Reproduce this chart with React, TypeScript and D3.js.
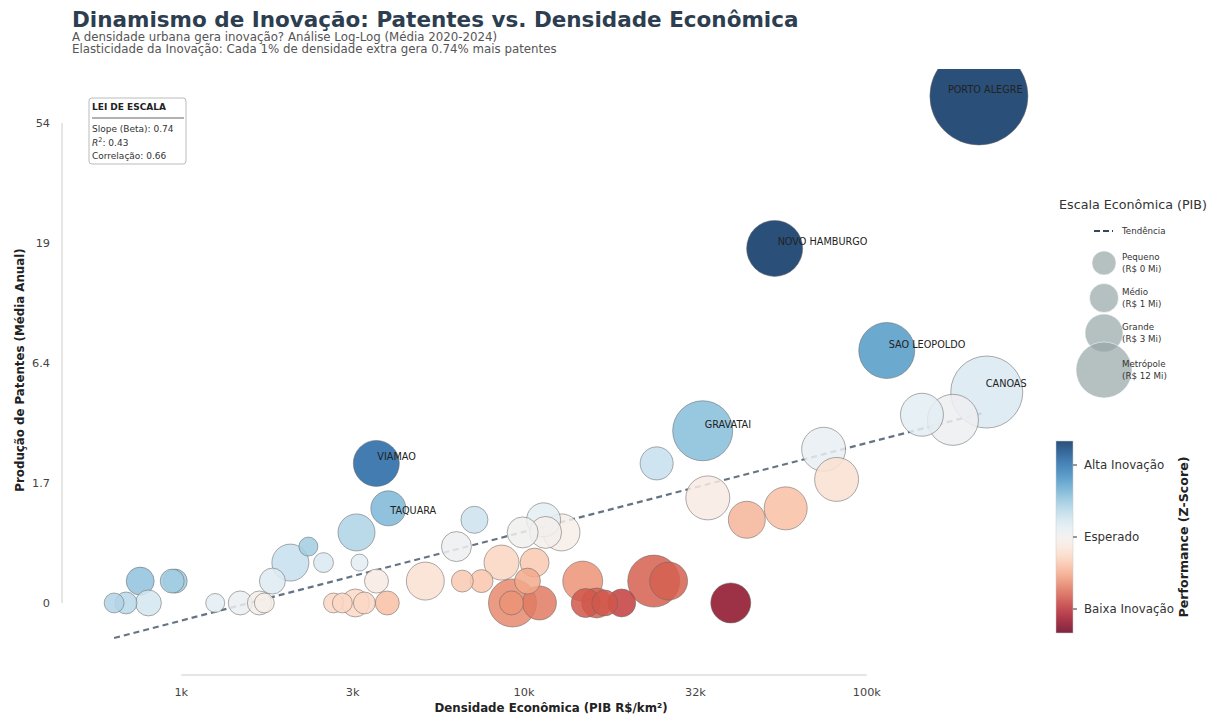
import React from "react";
import * as d3 from "d3";

// ---------- DATA ----------
const labels: string[] = [
  "", "", "", "", "", "", "", "", "", "",
  "", "", "", "", "", "", "", "", "", "",
  "", "", "VIAMAO", "TAQUARA", "", "", "", "", "", "",
  "", "", "", "", "", "", "", "", "", "",
  "", "", "", "", "", "", "", "GRAVATAI", "", "",
  "", "", "NOVO HAMBURGO", "", "", "SAO LEOPOLDO", "", "", "CANOAS", "PORTO ALEGRE",
];
// Economic density (PIB R$/km²)
const density: number[] = [
  637, 690, 802, 759, 960, 941, 1256, 1486, 1690, 1747,
  1844, 2081, 2349, 2600, 3245, 3311, 3711, 2780, 2951, 3221,
  3421, 3990, 3707, 4018, 5152, 6350, 7166, 6607, 7516, 8596,
  10735, 9906, 11400, 12860, 11560, 10233, 9253, 9190, 11090, 14830,
  15130, 16290, 17190, 19270, 23890, 26410, 24370, 33200, 34360, 40090,
  44660, 57980, 53830, 74800, 81620, 114300, 144800, 178300, 223800, 212300,
];
// Patents (annual average 2020-2024)
const patents: number[] = [
  0, 0, 0, 0.2, 0.2, 0.2, 0, 0, 0, 0,
  0.2, 0.4, 0.6, 0.4, 0.8, 0.4, 0.2, 0, 0, 0,
  0, 0, 2.2, 1.2, 0.2, 0.6, 1.0, 0.2, 0.2, 0.4,
  0.4, 0.8, 1.0, 0.8, 0.8, 0.2, 0, 0, 0, 0.2,
  0, 0, 0, 0, 0.2, 0.2, 2.2, 3.2, 1.4, 0,
  1.0, 1.2, 18.2, 2.6, 1.8, 7.2, 3.8, 3.6, 4.8, 67.4,
];
// Performance z-score (residual)
const zscore: number[] = [
  0.6, 0.55, 0.35, 0.8, 0.72, 0.7, 0.2, 0.12, -0.08, -0.1,
  0.25, 0.45, 0.7, 0.28, 0.62, 0.2, -0.15, -0.4, -0.4, -0.38,
  -0.4, -0.6, 1.6, 0.9, -0.3, 0.08, 0.4, -0.52, -0.55, -0.42,
  -0.52, 0.03, 0.2, -0.1, -0.05, -0.76, -0.95, -0.9, -1.05, -0.9,
  -1.25, -1.2, -1.25, -1.4, -1.2, -1.2, 0.45, 0.85, -0.15, -1.8,
  -0.68, -0.6, 2.5, 0.15, -0.3, 1.15, 0.2, 0.08, 0.28, 3.0,
];
// Economic scale (PIB, R$ Mi)
const pib: number[] = [
  3.3, 4.0, 5.6, 6.5, 4.8, 4.8, 3.0, 4.8, 4.8, 3.3,
  5.6, 11.4, 3.0, 3.3, 11.4, 2.4, 4.8, 3.3, 3.3, 6.5,
  4.0, 4.8, 17.6, 10.2, 12.0, 7.5, 6.1, 4.0, 4.4, 10.2,
  7.0, 8.0, 9.6, 11.4, 8.5, 5.6, 19.2, 4.8, 9.6, 13.3,
  7.0, 7.5, 5.6, 6.5, 22.5, 12.0, 9.1, 30.0, 16.1, 13.3,
  11.4, 15.4, 26.1, 16.1, 16.1, 26.1, 15.4, 21.7, 43.2, 80.0,
];

const xTicks: number[] = [1000, 3162, 10000, 31623, 100000];
const xTickLabels: string[] = ["1k", "3k", "10k", "32k", "100k"];
const yTicks: number[] = [0, 1.718, 6.389, 19.09, 53.6];
const yTickLabels: string[] = ["0", "1.7", "6.4", "19", "54"];

const trendSlope = 0.74;
const trendIntercept = -2.367; // ln(1+p) = slope*log10(d) + intercept
const trendRange: number[] = [637, 221000];

const stats: string[] = ["Slope (Beta): 0.74", "0.43", "Correlação: 0.66"];

const sizeLegendLabels: string[][] = [
  ["Pequeno", "(R$ 0 Mi)"],
  ["Médio", "(R$ 1 Mi)"],
  ["Grande", "(R$ 3 Mi)"],
  ["Metrópole", "(R$ 12 Mi)"],
];
const sizeLegendRadii: number[] = [12, 14.5, 19, 28];

const cbTicks: number[] = [1.5, 0, -1.5];
const cbTickLabels: string[] = ["Alta Inovação", "Esperado", "Baixa Inovação"];

// ---------- LAYOUT ----------
const W = 1216, H = 715;
const plot = { left: 72, top: 69, right: 1040, bottom: 665 };
const FONT = "DejaVu Sans, Verdana, sans-serif";

const labelNudge: Record<string, [number, number]> = {
  "PORTO ALEGRE": [-31, -6],
  "NOVO HAMBURGO": [3, -7],
  "SAO LEOPOLDO": [2, -6],
  CANOAS: [-1, -8],
  GRAVATAI: [2, -6],
  VIAMAO: [1, -7],
  TAQUARA: [2, 2],
};

export default function App() {
  const x = d3.scaleLog().domain([480, 320000]).range([plot.left, plot.right]);
  const yl = d3.scaleLinear().domain([-0.517, 4.45]).range([plot.bottom, plot.top]);
  const y = (p: number) => yl(Math.log1p(p));
  const r = d3.scaleSqrt().domain([0, 80]).range([0, 49]);
  const color = d3.scaleSequential(d3.interpolateRdBu).domain([-2, 2]).clamp(true);

  const pts = density.map((d, i) => ({
    d, p: patents[i], z: zscore[i], s: pib[i], label: labels[i],
  }));
  const order = pts.slice().sort((a, b) => b.s - a.s);

  const trendLine = d3.line<number>()
    .x((d) => x(d))
    .y((d) => yl(trendSlope * Math.log10(d) + trendIntercept));

  const cb = { x: 1056, y: 441, w: 17, h: 192 };
  const cbScale = d3.scaleLinear().domain([-2, 2]).range([cb.y + cb.h, cb.y]);
  const gradStops = d3.range(0, 1.0001, 0.05);

  return (
    <svg width={W} height={H} style={{ position: "absolute", left: 0, top: 0, background: "#fff" }}
      fontFamily={FONT}>
      <defs>
        <clipPath id="plotclip">
          <rect x={plot.left} y={plot.top} width={plot.right - plot.left} height={plot.bottom - plot.top} />
        </clipPath>
        <linearGradient id="cbgrad" x1="0" y1="1" x2="0" y2="0">
          {gradStops.map((t) => (
            <stop key={t} offset={`${t * 100}%`} stopColor={d3.interpolateRdBu(t)} stopOpacity={0.85} />
          ))}
        </linearGradient>
      </defs>
      <rect width={W} height={H} fill="#fff" />

      {/* Title */}
      <text x={72} y={27} fontSize={21.5} fontWeight="bold" fill="#2c3e50">
        Dinamismo de Inovação: Patentes vs. Densidade Econômica
      </text>
      <text x={72} y={41} fontSize={11.8} fill="#555">
        A densidade urbana gera inovação? Análise Log-Log (Média 2020-2024)
      </text>
      <text x={72} y={53} fontSize={11.8} fill="#555">
        Elasticidade da Inovação: Cada 1% de densidade extra gera 0.74% mais patentes
      </text>

      {/* Axes spines */}
      <line x1={62} x2={62} y1={y(yTicks[yTicks.length - 1])} y2={y(0)} stroke="#ccc" strokeWidth={1} />
      <line x1={x(1000)} x2={x(100000)} y1={675} y2={675} stroke="#ccc" strokeWidth={1} />
      {yTicks.map((t, i) => (
        <text key={t} x={50} y={y(t)} dy="0.35em" textAnchor="end" fontSize={11.3} fill="#444">
          {yTickLabels[i]}
        </text>
      ))}
      {xTicks.map((t, i) => (
        <text key={t} x={x(t)} y={692} dy="0.35em" textAnchor="middle" fontSize={11.3} fill="#444">
          {xTickLabels[i]}
        </text>
      ))}
      <text x={551} y={712} textAnchor="middle" fontSize={11.8} fontWeight="bold" fill="#222">
        Densidade Econômica (PIB R$/km²)
      </text>
      <text transform={`translate(24,${370}) rotate(-90)`} textAnchor="middle" fontSize={11.8}
        fontWeight="bold" fill="#222">
        Produção de Patentes (Média Anual)
      </text>

      {/* Plot */}
      <g clipPath="url(#plotclip)">
        <path d={trendLine(trendRange) || ""} fill="none" stroke="#5d6d7e" strokeWidth={2.2}
          strokeDasharray="6,4" opacity={0.95} />
        {order.map((pt, i) => (
          <circle key={i} cx={x(pt.d)} cy={y(pt.p)} r={r(pt.s)} fill={color(pt.z)} fillOpacity={0.85}
            stroke="#666" strokeOpacity={0.6} strokeWidth={0.9} />
        ))}
        {pts.filter((pt) => pt.label).map((pt) => {
          const [dx, dy] = labelNudge[pt.label] || [0, 0];
          return (
            <text key={pt.label} x={x(pt.d) + dx} y={y(pt.p) + dy} dy="0.35em" fontSize={9.7} fill="#222">
              {pt.label}
            </text>
          );
        })}
      </g>

      {/* Stats box */}
      <g>
        <rect x={89} y={98} width={97} height={66} rx={3} fill="#fff" stroke="#bbb" strokeWidth={1} />
        <text x={92} y={110} fontSize={9} fontWeight="bold" fill="#222">LEI DE ESCALA</text>
        <line x1={92} x2={184} y1={118} y2={118} stroke="#999" strokeWidth={1.5} />
        <text x={92} y={132} fontSize={9} fill="#333">{stats[0]}</text>
        <text x={92} y={146} fontSize={9} fill="#333">
          <tspan fontStyle="italic">R</tspan>
          <tspan fontSize={6.5} dy={-4}>2</tspan>
          <tspan dy={4}>: {stats[1]}</tspan>
        </text>
        <text x={92} y={159} fontSize={9} fill="#333">{stats[2]}</text>
      </g>

      {/* Size legend */}
      <g>
        <text x={1133} y={209} textAnchor="middle" fontSize={12.7} fill="#333">Escala Econômica (PIB)</text>
        <line x1={1094} x2={1113} y1={231} y2={231} stroke="#34495e" strokeWidth={2} strokeDasharray="6,3" />
        <text x={1122} y={231} dy="0.35em" fontSize={8.7} fill="#333">Tendência</text>
        {sizeLegendLabels.map((lab, i) => {
          const cy = [263, 298, 333, 370][i];
          return (
            <g key={lab[0]}>
              <circle cx={1104} cy={cy} r={sizeLegendRadii[i]} fill="#95a5a6" fillOpacity={0.7}
                stroke="#fff" strokeWidth={0.5} />
              <text x={1122} y={cy - 6} dy="0.35em" fontSize={8.7} fill="#333">{lab[0]}</text>
              <text x={1122} y={cy + 6} dy="0.35em" fontSize={8.7} fill="#333">{lab[1]}</text>
            </g>
          );
        })}
      </g>

      {/* Colorbar */}
      <g>
        <rect x={cb.x} y={cb.y} width={cb.w} height={cb.h} fill="url(#cbgrad)" stroke="#ccc" strokeWidth={0.5} />
        {cbTicks.map((t, i) => (
          <g key={t}>
            <line x1={cb.x + cb.w} x2={cb.x + cb.w + 4} y1={cbScale(t)} y2={cbScale(t)} stroke="#333" />
            <text x={cb.x + cb.w + 11} y={cbScale(t)} dy="0.35em" fontSize={11.8} fill="#333">
              {cbTickLabels[i]}
            </text>
          </g>
        ))}
        <text transform={`translate(1188,${cb.y + cb.h / 2}) rotate(-90)`} textAnchor="middle"
          fontSize={12.6} fontWeight="bold" fill="#222">
          Performance (Z-Score)
        </text>
      </g>
    </svg>
  );
}
